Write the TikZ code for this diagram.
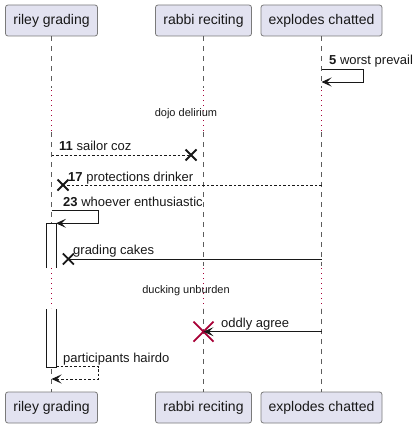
\documentclass[tikz,border=0pt]{standalone}
\usepackage{fontspec}
\setmainfont{Liberation Sans}
\usetikzlibrary{arrows.meta,calc}
\definecolor{partfill}{HTML}{E2E2F0}
\definecolor{partdraw}{HTML}{7A7A7A}
\definecolor{ink}{HTML}{181818}
\definecolor{delayred}{HTML}{A80036}
\tikzset{
  x=1pt, y=-1pt,
  part/.style={draw=partdraw, fill=partfill, rounded corners=2.5pt, line width=0.8pt,
    minimum height=31pt, inner sep=0pt, font=\fontsize{14}{16}\selectfont, text=ink},
  life/.style={draw=ink!70, line width=0.8pt, dash pattern=on 5pt off 5pt},
  delayline/.style={draw=delayred, line width=0.9pt, dash pattern=on 1pt off 4pt},
  msg/.style={draw=ink, line width=0.9pt},
  ret/.style={draw=ink, line width=0.9pt, dash pattern=on 2.5pt off 2pt},
  tip/.style={-{Stealth[length=10pt,width=9pt,inset=4.5pt]}},
  lbl/.style={font=\fontsize{13}{15}\selectfont, text=ink, inner sep=0pt, anchor=base west},
  dlbl/.style={font=\fontsize{11}{13}\selectfont, text=ink, inner sep=0pt, anchor=base},
  xmark/.style={draw=ink, line width=1.8pt},
  rxmark/.style={draw=delayred, line width=1.8pt},
  actbox/.style={draw=ink, fill=white, line width=0.9pt}
}
\begin{document}
\begin{tikzpicture}
\useasboundingbox (0,0) rectangle (416,428);
% participants
\node[part, minimum width=92pt] (rt) at (51.5,20.5) {riley grading};
\node[part, minimum width=96pt] (bt) at (203.5,20.5) {rabbi reciting};
\node[part, minimum width=121pt] (et) at (321.5,20.5) {explodes chatted};
\node[part, minimum width=92pt] (rb) at (51.5,407.5) {riley grading};
\node[part, minimum width=96pt] (bb) at (203.5,407.5) {rabbi reciting};
\node[part, minimum width=121pt] (eb) at (321.5,407.5) {explodes chatted};
% lifelines
\foreach \p/\q/\x in {rt/rb/51.5, bt/bb/203.5, et/eb/321.5}{
  \draw[life] (\p.south) -- (\x,88);
  \draw[delayline] (\x,90) -- (\x,131);
  \draw[life] (\x,132) -- (\x,266);
  \draw[delayline] (\x,268) -- (\x,308);
  \draw[life] (\x,309) -- (\q.north);
}
% activation
\fill[white] (46,223) rectangle (56,268);
\draw[actbox] (46,268) -- (46,223) -- (56,223) -- (56,268);
\fill[white] (46,309) rectangle (56,367);
\draw[actbox] (46,309) -- (46,367) -- (56,367) -- (56,309);
% 5 worst prevail
\coordinate (e5a) at (321.5,69.5);
\coordinate (e5b) at (321.5,82);
\draw[msg, tip] (e5a) -- (363,69.5) -- (363,82) -- (e5b);
\node[lbl] (l5) at (329,64) {\textbf{5} worst prevail};
% delay 1
\node[dlbl] (d1) at (186,116) {dojo delirium};
% 11 sailor coz
\coordinate (s11) at (51.5,155);
\coordinate (x11) at (191,155);
\draw[ret] (s11) -- (x11);
\draw[xmark] ($(x11)+(-5.5,-5.5)$) -- ($(x11)+(5.5,5.5)$) ($(x11)+(-5.5,5.5)$) -- ($(x11)+(5.5,-5.5)$);
\node[lbl] (l11) at (59,150) {\textbf{11} sailor coz};
% 17 protections drinker
\coordinate (s17) at (321.5,185);
\coordinate (x17) at (63,185);
\draw[ret] (s17) -- (x17);
\draw[xmark] ($(x17)+(-5.5,-5.5)$) -- ($(x17)+(5.5,5.5)$) ($(x17)+(-5.5,5.5)$) -- ($(x17)+(5.5,-5.5)$);
\node[lbl] (l17) at (68,181) {\textbf{17} protections drinker};
% 23 whoever enthusiastic
\coordinate (s23) at (51.5,210.7);
\coordinate (t23) at (56,223.3);
\draw[msg, tip] (s23) -- (98.3,210.7) -- (98.3,223.3) -- (t23);
\node[lbl] (l23) at (63,206) {\textbf{23} whoever enthusiastic};
% grading cakes
\coordinate (sgc) at (321.5,259);
\coordinate (xgc) at (68.3,259);
\draw[msg] (sgc) -- (xgc);
\draw[xmark] ($(xgc)+(-5.5,-5.5)$) -- ($(xgc)+(5.5,5.5)$) ($(xgc)+(-5.5,5.5)$) -- ($(xgc)+(5.5,-5.5)$);
\node[lbl] (lgc) at (73,254) {grading cakes};
% delay 2
\node[dlbl] (d2) at (186,293) {ducking unburden};
% oddly agree
\coordinate (soa) at (321.5,331.7);
\coordinate (toa) at (203.5,331.7);
\draw[rxmark] ($(toa)+(-10,-10)$) -- ($(toa)+(10,10)$) ($(toa)+(-10,10)$) -- ($(toa)+(10,-10)$);
\draw[msg, tip] (soa) -- (toa);
\node[lbl] (loa) at (221,327) {oddly agree};
% participants hairdo
\coordinate (sph) at (56,366.7);
\coordinate (tph) at (51.5,379);
\draw[ret, tip] (sph) -- (98.7,366.7) -- (98.7,379) -- (tph);
\node[lbl] (lph) at (63,362) {participants hairdo};
\end{tikzpicture}
\end{document}
